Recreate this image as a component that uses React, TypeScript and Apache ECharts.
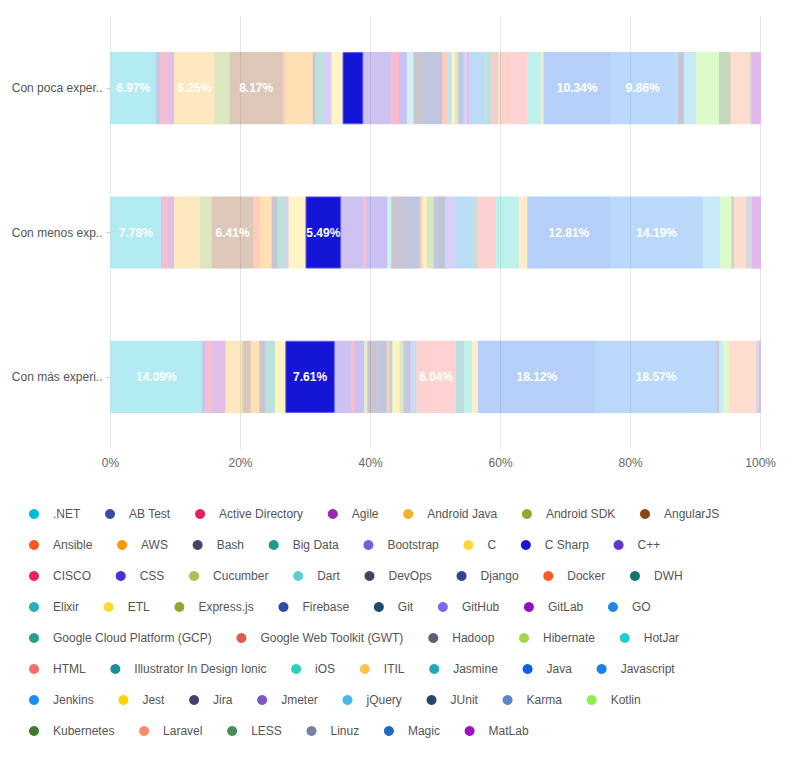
import React, { useEffect, useRef } from "react";
import * as echarts from "echarts";

const categories = ["Con poca experiencia", "Con menos experiencia", "Con más experiencia"];

const technologies = [
  ".NET", "AB Test", "Active Directory", "Agile", "Android Java", "Android SDK", "AngularJS",
  "Ansible", "AWS", "Bash", "Big Data", "Bootstrap", "C", "C Sharp", "C++",
  "CISCO", "CSS", "Cucumber", "Dart", "DevOps", "Django", "Docker", "DWH",
  "Elixir", "ETL", "Express.js", "Firebase", "Git", "GitHub", "GitLab", "GO",
  "Google Cloud Platform (GCP)", "Google Web Toolkit (GWT)", "Hadoop", "Hibernate", "HotJar",
  "HTML", "Illustrator In Design Ionic", "iOS", "ITIL", "Jasmine", "Java", "Javascript",
  "Jenkins", "Jest", "Jira", "Jmeter", "jQuery", "JUnit", "Karma", "Kotlin",
  "Kubernetes", "Laravel", "LESS", "Linuz", "Magic", "MatLab",
];

// number of legend entries on each legend row
const legendRows = [7, 8, 8, 8, 5, 7, 8, 6];

const colors = [
  "#00bcd4", "#3949ab", "#e91e63", "#9c27b0", "#f4b02a", "#8bab2a", "#8b4513",
  "#ff5722", "#ff9800", "#4a4266", "#1f9a8a", "#7a5be0", "#fdd835", "#1515d6", "#5e35d1",
  "#e91e63", "#4b2fd8", "#a8c256", "#5ecfcf", "#4a4060", "#2e4394", "#ff5722", "#12766a",
  "#26b0b8", "#fdd835", "#8bab2a", "#2e4aa5", "#1e4a6e", "#7b68ee", "#8e12c0", "#1e88e5",
  "#2a9d8f", "#e05a4f", "#5a6078", "#9ed84a", "#1ecfcf",
  "#ff6b6b", "#1e8e99", "#2ad0c0", "#ffc04d", "#26a6b4", "#0d5fe8", "#1a80f0",
  "#1a8cf0", "#ffd400", "#4a3c6e", "#7e57c2", "#4ab5e8", "#25476a", "#5a86c8", "#90ee50",
  "#3e7a2a", "#ff8a65", "#4a8a5e", "#7a80a0", "#1e6ac0", "#a010c8",
];

// percentages per technology, for "Con poca experiencia"
const pocaExp = [
  6.97, 0.7, 1.2, 0.9, 6.25, 2.3, 8.17,
  0.4, 4.2, 0.4, 1.2, 1.3, 1.7, 3.2, 4.3,
  1.2, 1.2, 0, 1.0, 1.5, 2.9, 0.8, 0,
  0.7, 0.5, 0.5, 0.5, 0.3, 0.6, 0.3, 2.5,
  0.9, 0.9, 0.1, 0.3, 0,
  4.2, 0, 2.2, 0.3, 0, 10.34, 9.86,
  0.5, 0, 0.9, 0, 1.9, 0, 0, 3.5,
  1.8, 3.0, 0.2, 0, 0, 1.4,
];

// "Con menos experiencia"
const menosExp = [
  7.78, 0.2, 0.8, 1.0, 4.0, 1.8, 6.41,
  1.0, 1.8, 0.9, 1.2, 0.5, 2.6, 5.49, 3.4,
  0.5, 3.2, 0, 0.6, 1.8, 2.6, 0.42, 0,
  0, 0.6, 1.1, 0.6, 1.2, 1.5, 0, 2.7,
  0.6, 0.3, 0, 0, 0,
  2.7, 0, 3.5, 1.3, 0, 12.81, 14.19,
  0, 0, 0, 0, 2.7, 0, 0, 1.7,
  0.4, 1.8, 0, 0.9, 0, 1.4,
];

// "Con más experiencia"
const masExp = [
  14.09, 0.5, 1.0, 2.1, 2.6, 0, 1.3,
  0, 1.3, 0.9, 1.5, 0, 1.6, 7.61, 2.5,
  0.6, 1.4, 0.5, 0, 1.57, 1.4, 0.5, 0.4,
  0, 1.1, 0.6, 0.7, 0.3, 0.5, 0, 0.2,
  0.3, 0, 0, 0, 0,
  6.04, 1.3, 1.2, 0.9, 0, 18.12, 18.57,
  0, 0, 0.4, 0, 0.6, 0, 0, 0.9,
  0, 4.2, 0, 0.4, 0, 0.3,
];

const xTicks = [0, 20, 40, 60, 80, 100];

const highlighted = "C Sharp";
const FONT = "'Liberation Sans', Arial, sans-serif";

function fade(hex: string, a: number) {
  const r = parseInt(hex.slice(1, 3), 16);
  const g = parseInt(hex.slice(3, 5), 16);
  const b = parseInt(hex.slice(5, 7), 16);
  return `rgba(${r},${g},${b},${a})`;
}

export default function App() {
  const ref = useRef<HTMLDivElement>(null);

  useEffect(() => {
    if (!ref.current) return;
    const chart = echarts.init(ref.current, undefined, { renderer: "svg" });

    const series = technologies.map((name, i) => {
      const isHi = name === highlighted;
      return {
        name,
        type: "bar",
        stack: "total",
        barWidth: "50%",
        data: [pocaExp[i], menosExp[i], masExp[i]],
        itemStyle: {
          color: isHi ? colors[i] : fade(colors[i], 0.3),
          borderColor: isHi ? "#5a5af0" : undefined,
          borderWidth: isHi ? 1 : 0,
        },
        label: {
          show: true,
          position: "inside",
          color: "#fff",
          fontWeight: "bold",
          fontSize: 12,
          fontFamily: FONT,
          textBorderWidth: 0,
          formatter: (p: any) => (p.value >= 5 ? p.value.toFixed(2) + "%" : ""),
        },
      };
    });

    const legends: any[] = [];
    let start = 0;
    legendRows.forEach((count, row) => {
      const names = technologies.slice(start, start + count);
      const offset = start;
      legends.push({
        type: "plain",
        left: 16,
        top: 495 + row * 31,
        width: 760,
        icon: "circle",
        itemWidth: 28,
        itemHeight: 10,
        itemGap: 24.7,
        textStyle: { color: "#555", fontSize: 12, fontFamily: FONT },
        data: names.map((name, k) => ({
          name,
          itemStyle: { color: colors[offset + k], opacity: 1, borderWidth: 0 },
        })),
      });
      start += count;
    });

    chart.setOption({
      animation: false,
      textStyle: { fontFamily: FONT },
      grid: { left: 102.5, right: 17, top: 8, bottom: 304, containLabel: false },
      xAxis: {
        type: "value",
        min: xTicks[0],
        max: xTicks[xTicks.length - 1],
        interval: 20,
        axisLine: { show: false },
        axisTick: { show: false },
        splitLine: { show: true, lineStyle: { color: "#e6e6e6" } },
        axisLabel: { color: "#666", fontSize: 12, fontFamily: FONT, formatter: "{value}%", margin: 8 },
      },
      yAxis: {
        type: "category",
        inverse: true,
        data: categories,
        axisLine: { show: false },
        axisTick: { show: true, alignWithLabel: true, length: 4, lineStyle: { color: "#ccc" } },
        axisLabel: {
          color: "#555",
          fontSize: 12,
          fontFamily: FONT,
          width: 95,
          overflow: "truncate",
          ellipsis: "..",
          margin: 8,
        },
      },
      legend: legends,
      series,
    });

    return () => chart.dispose();
  }, []);

  return <div ref={ref} style={{ width: 771, height: 745 }} />;
}
